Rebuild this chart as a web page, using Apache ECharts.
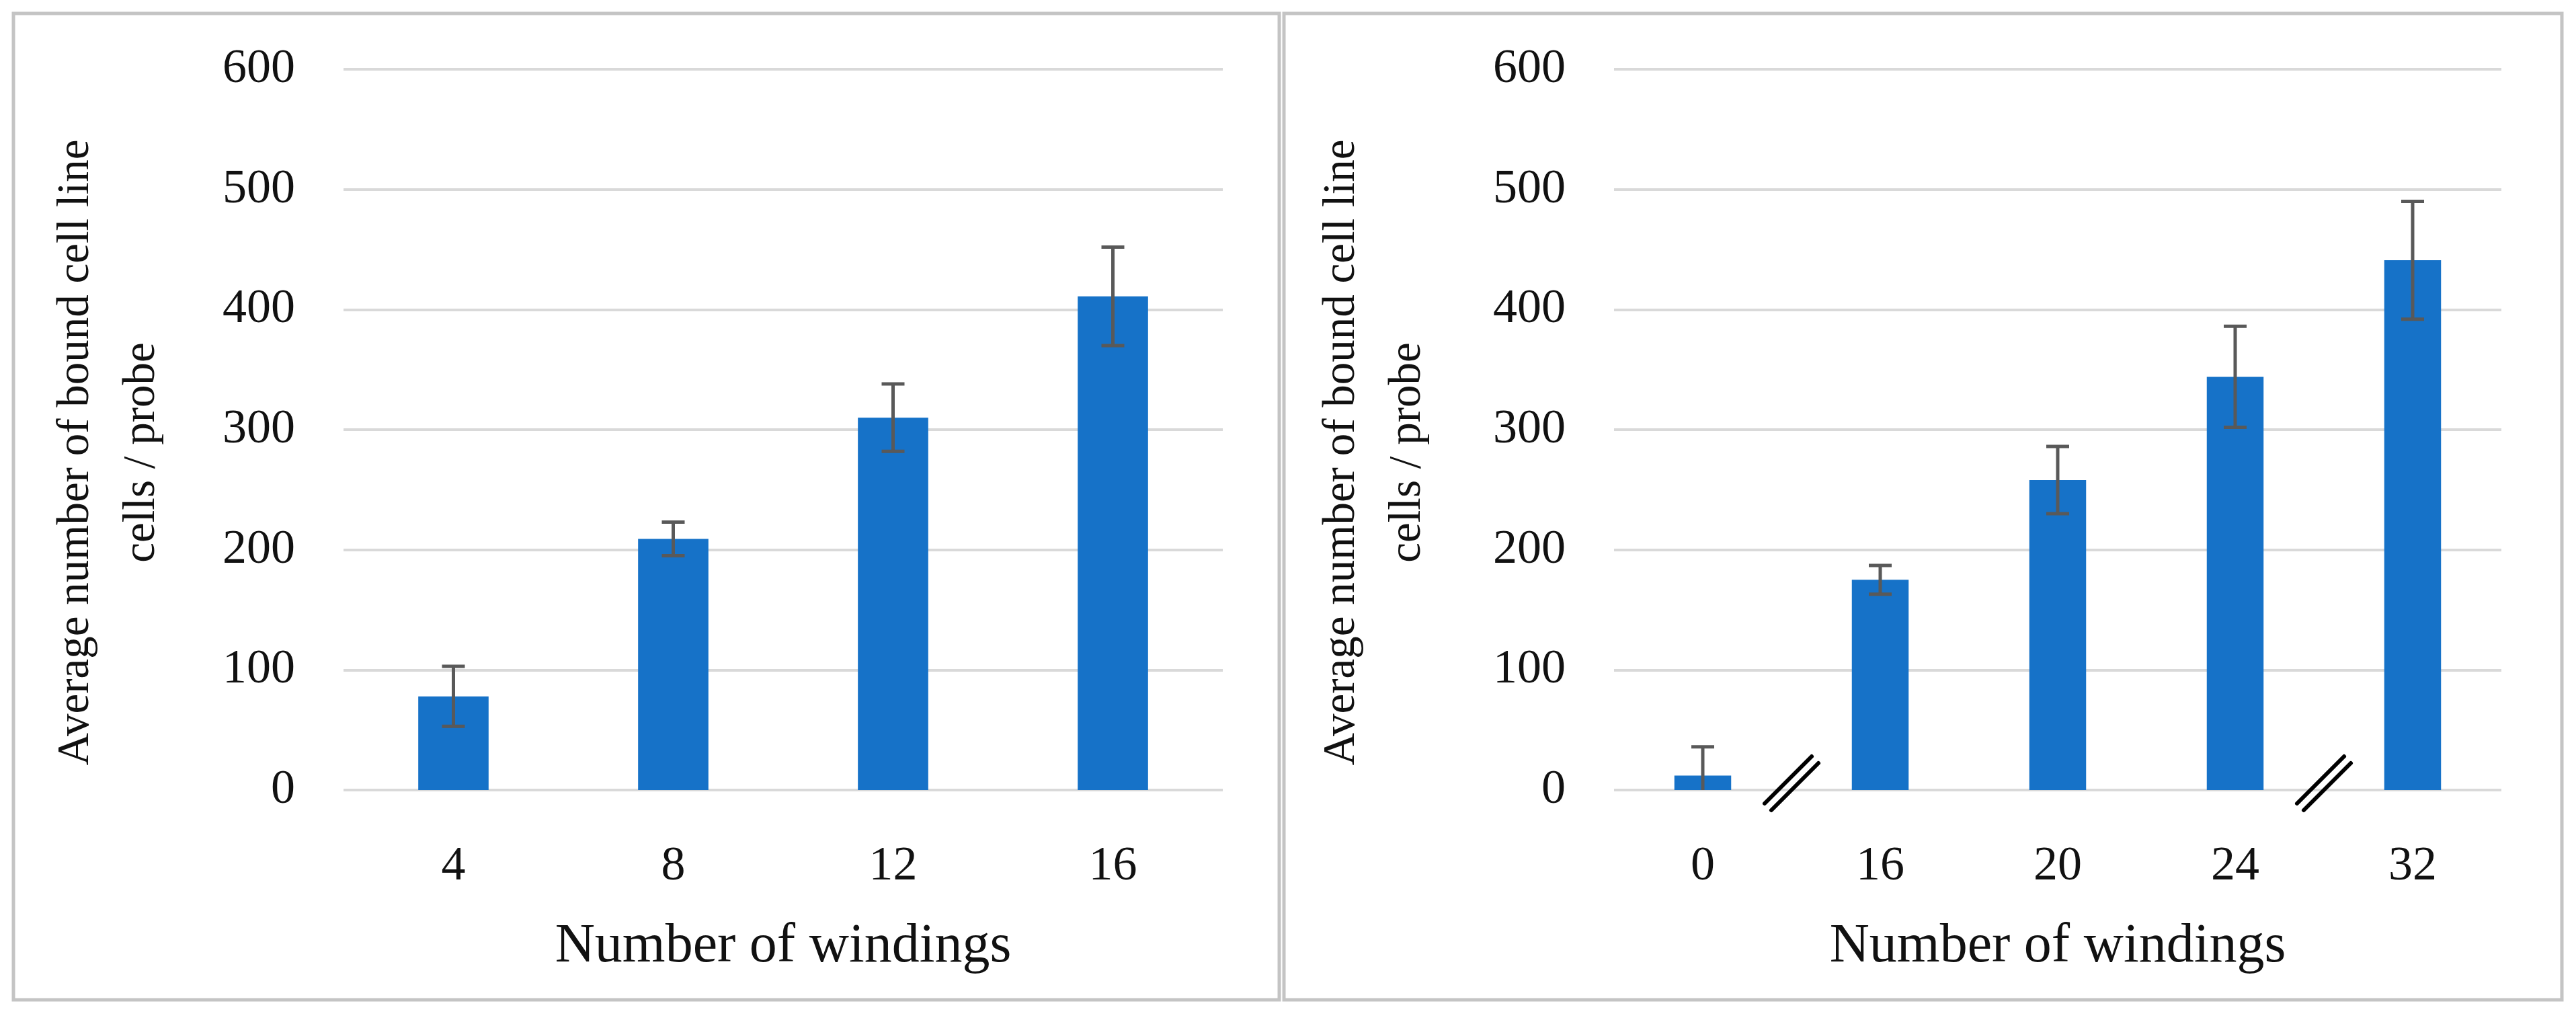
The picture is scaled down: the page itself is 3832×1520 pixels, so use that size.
<!DOCTYPE html>
<html>
<head>
<meta charset="utf-8">
<script src="https://cdn.jsdelivr.net/npm/echarts@6/dist/echarts.min.js"></script>
<style>
html,body{margin:0;padding:0;background:#fff;}
#chart{width:3832px;height:1520px;}
</style>
</head>
<body>
<div id="chart"></div>
<script>
// ---- data ----
const leftCategories = ['4', '8', '12', '16'];
const leftValues = [78, 209, 310, 411];
const leftErrors = [25, 14, 28, 41];

const rightCategories = ['0', '16', '20', '24', '32'];
const rightValues = [12, 175, 258, 344, 441];
const rightErrors = [24, 12, 28, 42, 49];

// axis breaks drawn between these category index pairs (right panel)
const rightBreaks = [[0, 1], [3, 4]];

const yTicks = { min: 0, max: 600, interval: 100 };
const yTitle = 'Average number of bound cell line\ncells / probe';
const xTitle = 'Number of windings';

// ---- style ----
const FONT = 'Liberation Serif';
const BAR_COLOR = '#1672C8';
const ERR_COLOR = '#595959';
const GRID_COLOR = '#d9d9d9';

function errorRender(params, api) {
  const idx = api.value(0);
  const v = api.value(1);
  const e = api.value(2);
  const lowV = Math.max(0, v - e);
  const hi = api.coord([idx, v + e]);
  const lo = api.coord([idx, lowV]);
  const cap = 17;
  const style = { stroke: ERR_COLOR, lineWidth: 5 };
  const children = [
    { type: 'line', shape: { x1: hi[0], y1: hi[1], x2: lo[0], y2: lo[1] }, style },
    { type: 'line', shape: { x1: hi[0] - cap, y1: hi[1], x2: hi[0] + cap, y2: hi[1] }, style }
  ];
  if (v - e > 0) {
    children.push({ type: 'line', shape: { x1: lo[0] - cap, y1: lo[1], x2: lo[0] + cap, y2: lo[1] }, style });
  }
  return { type: 'group', children };
}

function breakRender(params, api) {
  const a = api.coord([api.value(0), 0]);
  const b = api.coord([api.value(1), 0]);
  const cx = (a[0] + b[0]) / 2;
  const cy = a[1] - 10;
  const h = 35, o = 5;
  const style = { stroke: '#000', lineWidth: 6, lineCap: 'round' };
  return {
    type: 'group',
    children: [
      { type: 'line', shape: { x1: cx - o - h, y1: cy - o + h, x2: cx - o + h, y2: cy - o - h }, style },
      { type: 'line', shape: { x1: cx + o - h, y1: cy + o + h, x2: cx + o + h, y2: cy + o - h }, style }
    ]
  };
}

function makeY(gridIndex, gap) {
  return {
    type: 'value', gridIndex,
    min: yTicks.min, max: yTicks.max, interval: yTicks.interval,
    axisLine: { show: false }, axisTick: { show: false },
    splitLine: { show: true, lineStyle: { color: GRID_COLOR, width: 4 } },
    axisLabel: { fontFamily: FONT, fontSize: 72, color: '#111', margin: 72 },
    name: yTitle, nameLocation: 'middle', nameRotate: 90, nameGap: gap,
    nameTextStyle: { fontFamily: FONT, fontSize: 67, color: '#111', lineHeight: 98, padding: [0, 68, 0, 0] }
  };
}

function makeX(gridIndex, cats) {
  return {
    type: 'category', gridIndex, data: cats,
    axisLine: { show: false }, axisTick: { show: false },
    axisLabel: { fontFamily: FONT, fontSize: 72, color: '#111', margin: 78 },
    name: xTitle, nameLocation: 'middle', nameGap: 192,
    nameTextStyle: { fontFamily: FONT, fontSize: 82, color: '#111' }
  };
}

const chart = echarts.init(document.getElementById('chart'), null, { renderer: 'canvas' });
chart.setOption({
  backgroundColor: '#fff',
  animation: false,
  graphic: [
    { type: 'rect', shape: { x: 20, y: 20, width: 1883, height: 1467 }, style: { fill: 'none', stroke: '#c4c4c4', lineWidth: 5 }, z: -1 },
    { type: 'rect', shape: { x: 1910, y: 20, width: 1901, height: 1467 }, style: { fill: 'none', stroke: '#c4c4c4', lineWidth: 5 }, z: -1 }
  ],
  grid: [
    { left: 511, right: 2013, top: 103, bottom: 345 },
    { left: 2401, right: 111, top: 103, bottom: 345 }
  ],
  xAxis: [makeX(0, leftCategories), makeX(1, rightCategories)],
  yAxis: [makeY(0, 251), makeY(1, 258)],
  series: [
    { type: 'bar', xAxisIndex: 0, yAxisIndex: 0, data: leftValues, barWidth: '32%', itemStyle: { color: BAR_COLOR } },
    { type: 'custom', xAxisIndex: 0, yAxisIndex: 0, renderItem: errorRender,
      data: leftValues.map((v, i) => [i, v, leftErrors[i]]), z: 5 },
    { type: 'bar', xAxisIndex: 1, yAxisIndex: 1, data: rightValues, barWidth: '32%', itemStyle: { color: BAR_COLOR } },
    { type: 'custom', xAxisIndex: 1, yAxisIndex: 1, renderItem: errorRender,
      data: rightValues.map((v, i) => [i, v, rightErrors[i]]), z: 5 },
    { type: 'custom', xAxisIndex: 1, yAxisIndex: 1, renderItem: breakRender, clip: false,
      data: rightBreaks, z: 6 }
  ]
});
</script>
</body>
</html>
